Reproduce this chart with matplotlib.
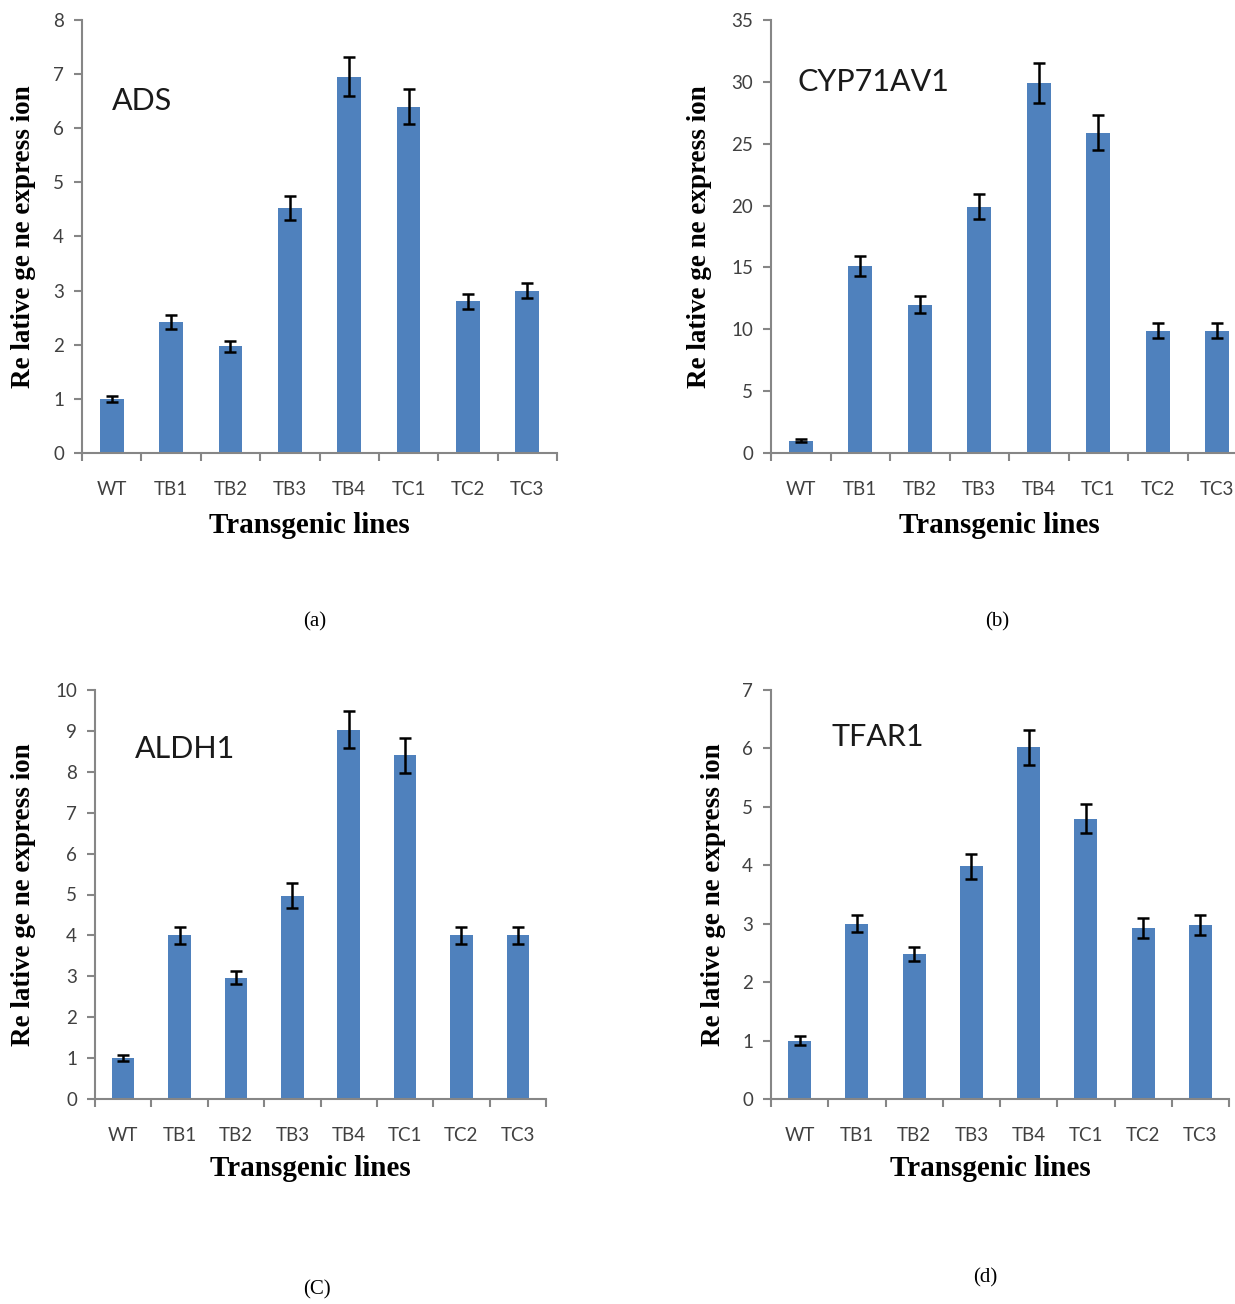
import numpy as np
import matplotlib.pyplot as plt

lines = ["WT", "TB1", "TB2", "TB3", "TB4", "TC1", "TC2", "TC3"]

ads = [1.0, 2.42, 1.97, 4.52, 6.95, 6.4, 2.8, 3.0]
ads_err = [0.05, 0.13, 0.1, 0.22, 0.36, 0.32, 0.14, 0.14]

cyp = [1.0, 15.1, 12.0, 19.9, 29.9, 25.9, 9.9, 9.9]
cyp_err = [0.15, 0.8, 0.7, 1.0, 1.6, 1.4, 0.6, 0.6]

aldh = [1.0, 4.0, 2.97, 4.97, 9.03, 8.4, 4.0, 4.0]
aldh_err = [0.08, 0.2, 0.17, 0.3, 0.45, 0.42, 0.2, 0.2]

tfar = [1.0, 3.0, 2.48, 3.98, 6.02, 4.8, 2.93, 2.98]
tfar_err = [0.07, 0.15, 0.12, 0.22, 0.3, 0.25, 0.17, 0.17]

W, H = 1235, 1304
BAR = "#4F81BD"
AXC = "#868686"
TXT = "#404040"

fig = plt.figure(figsize=(W / 100, H / 100), dpi=100)


def panel(left, right, top, bottom, vals, errs, ymax, step, gene, gpos, ylab_x, cap, cap_pos, xlab_y):
    ax = fig.add_axes([left / W, 1 - bottom / H, (right - left) / W, (bottom - top) / H])
    x = np.arange(len(lines))
    ax.bar(x, vals, width=0.4, color=BAR, zorder=2)
    ax.errorbar(x, vals, yerr=errs, fmt="none", ecolor="black", elinewidth=1.8,
                capsize=4, capthick=1.8, zorder=3)
    ax.set_xlim(-0.5, len(lines) - 0.5)
    ax.set_ylim(0, ymax)
    ax.set_yticks(np.arange(0, ymax + step / 2, step))
    ax.set_xticks(x)
    ax.set_xticklabels(lines, family="Lato", fontsize=13.5, color=TXT)
    for t in ax.get_yticklabels():
        t.set_family("Lato")
        t.set_fontsize(13.5)
        t.set_color(TXT)
    ax.set_xticks(np.arange(-0.5, len(lines), 1), minor=True)
    ax.tick_params(axis="x", which="major", length=0, pad=20)
    ax.tick_params(axis="x", which="minor", length=6, width=1.5, color=AXC)
    ax.tick_params(axis="y", length=6, width=1.5, color=AXC, pad=7)
    for s in ["top", "right"]:
        ax.spines[s].set_visible(False)
    for s in ["left", "bottom"]:
        ax.spines[s].set_color(AXC)
        ax.spines[s].set_linewidth(1.5)
    ax.text(gpos[0], gpos[1], gene, family="Lato", fontsize=22, color="#1a1a1a",
            ha="left", va="center")
    fig.text(ylab_x / W, 1 - (top + bottom) / 2 / H, "Re lative ge ne express ion",
             rotation=90, family="Liberation Serif", fontweight="bold", fontsize=19.5,
             ha="center", va="center")
    fig.text(((left + right) / 2 - 10) / W, 1 - xlab_y / H, "Transgenic lines",
             family="Liberation Serif", fontweight="bold", fontsize=21,
             ha="center", va="center")
    fig.text(cap_pos[0] / W, 1 - cap_pos[1] / H, cap, family="Liberation Serif",
             fontsize=15, ha="center", va="center")
    return ax


panel(82, 557, 20, 453, ads, ads_err, 8, 1, "ADS", (0.0, 6.5), 24, "(a)", (315, 622), 525)
panel(771, 1247, 20, 453, cyp, cyp_err, 35, 5, "CYP71AV1", (-0.05, 30.0), 700, "(b)", (997, 622), 525)
panel(95, 546, 690, 1099, aldh, aldh_err, 10, 1, "ALDH1", (0.2, 8.55), 24, "(C)", (317, 1290), 1168)
panel(771, 1229, 690, 1099, tfar, tfar_err, 7, 1, "TFAR1", (0.55, 6.2), 714, "(d)", (985, 1278), 1168)

fig.savefig("out.png", dpi=100)
